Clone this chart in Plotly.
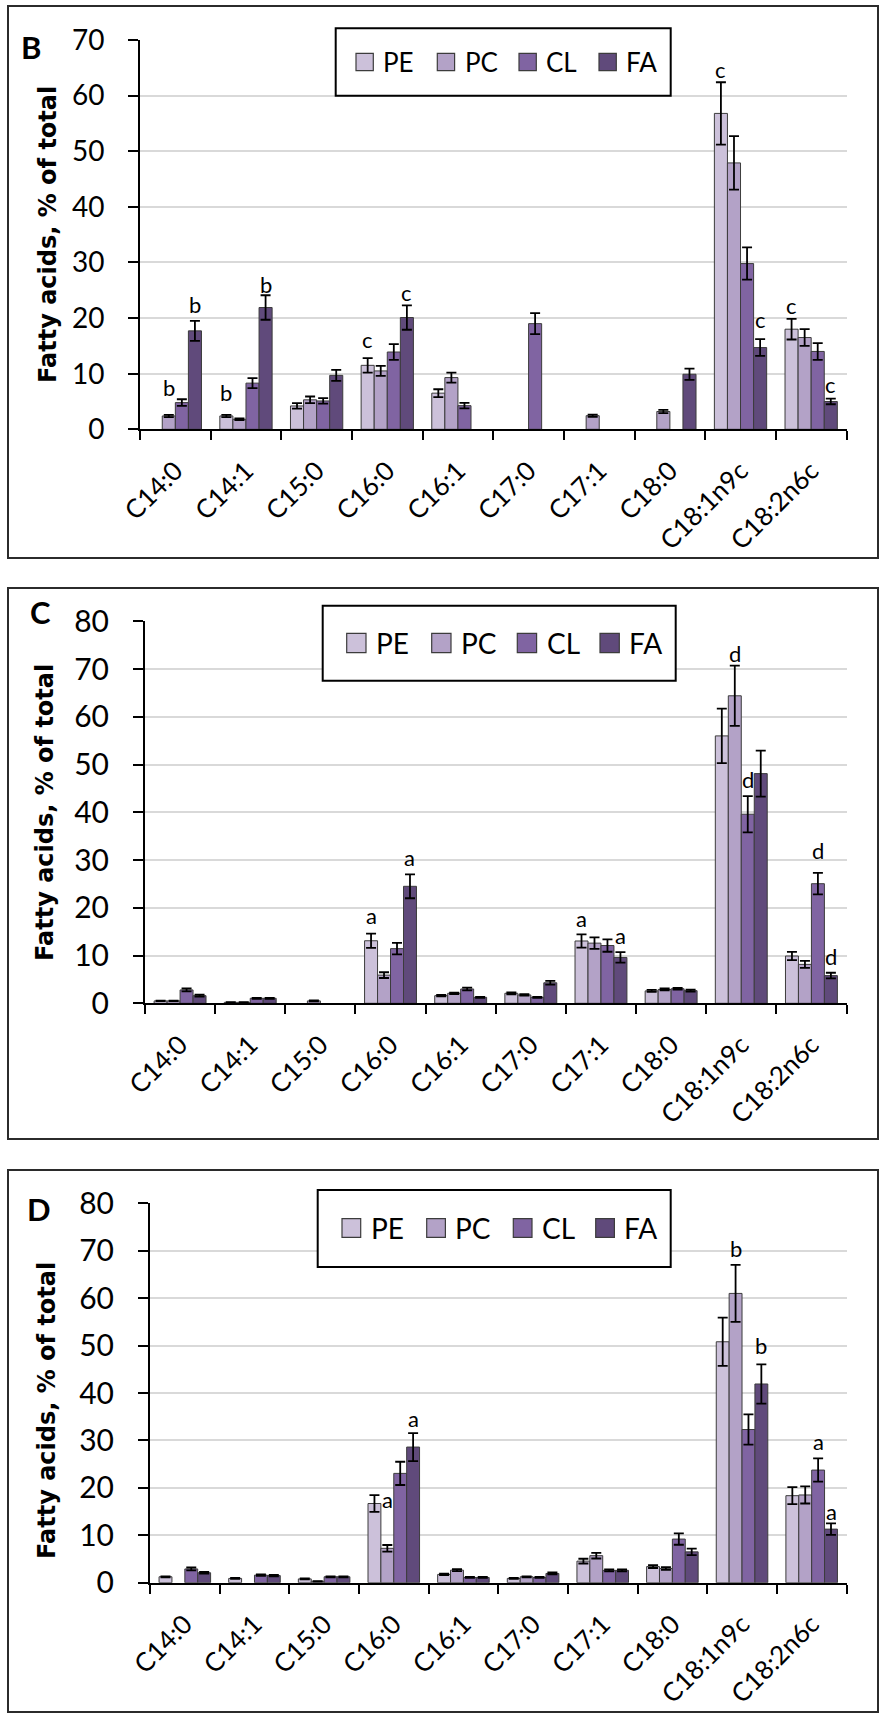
import plotly.graph_objects as go

# ---------------- data ----------------
categories = ["C14:0", "C14:1", "C15:0", "C16:0", "C16:1",
              "C17:0", "C17:1", "C18:0", "C18:1n9c", "C18:2n6c"]
series_names = ["PE", "PC", "CL", "FA"]
series_colors = ["#ccc1da", "#b3a2c7", "#8064a2", "#604a7b"]

# Panel B
b_PE = [None, 2.4, 4.2, 11.5, 6.5, None, None, None, 56.8, 18.0]
b_PC = [2.4, 1.8, 5.3, 10.5, 9.3, None, 2.45, 3.2, 47.9, 16.5]
b_CL = [4.8, 8.3, 5.1, 13.9, 4.25, 19.0, None, None, 29.8, 14.0]
b_FA = [17.7, 21.9, 9.7, 20.1, None, None, None, 9.9, 14.7, 5.0]
b_PE_err = [None, 0.2, 0.5, 1.3, 0.7, None, None, None, 5.6, 1.85]
b_PC_err = [0.2, 0.15, 0.6, 0.9, 0.9, None, 0.2, 0.3, 4.8, 1.5]
b_CL_err = [0.6, 0.9, 0.5, 1.4, 0.5, 1.9, None, None, 2.9, 1.5]
b_FA_err = [1.8, 2.2, 1.0, 2.2, None, None, None, 1.0, 1.5, 0.5]
# letters: (category, series index, y position, letter)
b_letters = [("C14:0", 1, 7.5, "b"), ("C14:0", 3, 22.5, "b"),
             ("C14:1", 0, 6.6, "b"), ("C14:1", 3, 26.1, "b"),
             ("C16:0", 0, 16.2, "c"), ("C16:0", 3, 24.6, "c"),
             ("C18:1n9c", 0, 64.7, "c"), ("C18:1n9c", 3, 19.8, "c"),
             ("C18:2n6c", 0, 22.3, "c"), ("C18:2n6c", 3, 8.0, "c")]

# Panel C
c_PE = [0.5, 0.2, None, 13.1, 1.6, 2.1, 13.05, 2.6, 56.0, 9.9]
c_PC = [0.5, 0.2, 0.5, 5.9, 2.1, 1.75, 12.6, 2.9, 64.4, 8.15]
c_CL = [2.8, 1.05, None, 11.45, 3.0, 1.25, 12.1, 3.05, 39.6, 25.05]
c_FA = [1.6, 1.05, None, 24.5, 1.25, 4.3, 9.6, 2.65, 48.1, 5.8]
c_PE_err = [0.05, 0.05, None, 1.5, 0.15, 0.2, 1.4, 0.2, 5.7, 0.85]
c_PC_err = [0.05, 0.05, 0.1, 0.6, 0.15, 0.15, 1.2, 0.2, 6.3, 0.75]
c_CL_err = [0.3, 0.1, None, 1.2, 0.3, 0.1, 1.3, 0.2, 3.8, 2.25]
c_FA_err = [0.2, 0.1, None, 2.5, 0.1, 0.4, 1.1, 0.2, 4.8, 0.6]
c_letters = [("C16:0", 0, 18.3, "a"), ("C16:0", 3, 30.6, "a"),
             ("C17:1", 0, 17.8, "a"), ("C17:1", 3, 14.1, "a"),
             ("C18:1n9c", 1, 73.3, "d"), ("C18:1n9c", 2, 46.8, "d"),
             ("C18:2n6c", 2, 32.0, "d"), ("C18:2n6c", 3, 9.9, "d")]

# Panel D
d_PE = [1.25, 0.9, 0.8, 16.7, 1.75, 0.9, 4.55, 3.4, 50.8, 18.35]
d_PC = [None, None, 0.3, 7.25, 2.65, 1.25, 5.7, 3.0, 61.0, 18.5]
d_CL = [2.9, 1.6, 1.25, 23.05, 1.1, 1.1, 2.6, 9.2, 32.3, 23.75]
d_FA = [2.1, 1.5, 1.25, 28.6, 1.1, 1.95, 2.6, 6.5, 41.9, 11.3]
d_PE_err = [0.1, 0.1, 0.1, 1.75, 0.15, 0.1, 0.5, 0.3, 5.1, 1.8]
d_PC_err = [None, None, 0.05, 0.7, 0.2, 0.1, 0.6, 0.3, 6.0, 1.8]
d_CL_err = [0.3, 0.15, 0.1, 2.45, 0.1, 0.1, 0.2, 1.2, 3.2, 2.45]
d_FA_err = [0.2, 0.15, 0.1, 2.95, 0.1, 0.2, 0.2, 0.7, 4.15, 1.2]
d_letters = [("C16:0", 1, 17.6, "a"), ("C16:0", 3, 34.6, "a"),
             ("C18:1n9c", 1, 70.5, "b"), ("C18:1n9c", 3, 50.1, "b"),
             ("C18:2n6c", 2, 29.7, "a"), ("C18:2n6c", 3, 15.0, "a")]

panel_labels = ["B", "C", "D"]
y_max = [70, 80, 80]
y_title = "Fatty acids, % of total"

# ---------------- layout geometry (pixels) ----------------
W, H = 880, 1715
BARGAP = 0.26


def px(x):
    return x / W


def py(y):
    return 1 - y / H


panels = [
    dict(vals=[b_PE, b_PC, b_CL, b_FA], errs=[b_PE_err, b_PC_err, b_CL_err, b_FA_err],
         letters=b_letters, plot=(140, 40, 846.5, 429.3), frame=(8, 6, 878, 558),
         label_pos=(31, 47), title_pos=(48, 235), tick_size=28,
         legend=dict(box=(335.7, 28.3, 670.7, 95.7), mx=[356, 437.3, 519, 599],
                     ms=17.3, cy=62, fs=26)),
    dict(vals=[c_PE, c_PC, c_CL, c_FA], errs=[c_PE_err, c_PC_err, c_CL_err, c_FA_err],
         letters=c_letters, plot=(145, 621.3, 846.5, 1003.3), frame=(8, 588, 878, 1139),
         label_pos=(40, 612), title_pos=(45, 813), tick_size=30,
         legend=dict(box=(322.7, 605.7, 675.7, 680.7), mx=[346.7, 431.7, 517.3, 600],
                     ms=19.3, cy=643, fs=28)),
    dict(vals=[d_PE, d_PC, d_CL, d_FA], errs=[d_PE_err, d_PC_err, d_CL_err, d_FA_err],
         letters=d_letters, plot=(150, 1203.3, 846.5, 1582.7), frame=(8, 1170, 878, 1712),
         label_pos=(39, 1209), title_pos=(47, 1411), tick_size=30,
         legend=dict(box=(317.7, 1190, 670.7, 1267), mx=[342, 426.7, 513.3, 595.7],
                     ms=18.7, cy=1228, fs=28)),
]

fig = go.Figure()
shapes = []
annotations = []
layout_axes = {}

for i, p in enumerate(panels):
    n = "" if i == 0 else str(i + 1)
    xref, yref = "x" + n, "y" + n
    for s in range(4):
        fig.add_trace(go.Bar(
            x=categories, y=p["vals"][s], name=series_names[s],
            marker=dict(color=series_colors[s], line=dict(color="#3c3c3c", width=1)),
            error_y=dict(type="data", array=p["errs"][s], visible=True,
                         color="black", thickness=1.8, width=5),
            xaxis=xref, yaxis=yref, showlegend=False, offsetgroup=str(s),
        ))
    x0, y0, x1, y1 = p["plot"]
    layout_axes["xaxis" + n] = dict(
        domain=[px(x0), px(x1)], anchor=yref, type="category",
        categoryorder="array", categoryarray=categories,
        range=[-0.5, len(categories) - 0.5], automargin=False,
        showline=True, linecolor="black", linewidth=2,
        ticks="outside", tickson="boundaries", ticklen=9, tickwidth=2, tickcolor="black",
        tickangle=-45, tickfont=dict(family="Lato", size=26, color="black"),
        ticklabelstandoff=14,
        showgrid=False, zeroline=False,
    )
    layout_axes["yaxis" + n] = dict(
        domain=[py(y1), py(y0)], anchor=xref, range=[0, y_max[i]], dtick=10,
        automargin=False,
        showline=True, linecolor="black", linewidth=2,
        ticks="outside", ticklen=10, tickwidth=2, tickcolor="black",
        showgrid=True, gridcolor="#d9d9d9", gridwidth=1.5, zeroline=False,
        tickfont=dict(family="Lato", size=p["tick_size"], color="black"),
        ticklabelstandoff=18,
    )
    # frame
    fx0, fy0, fx1, fy1 = p["frame"]
    shapes.append(dict(type="rect", xref="paper", yref="paper",
                       x0=px(fx0), x1=px(fx1), y0=py(fy1), y1=py(fy0),
                       line=dict(color="#2b2b2b", width=2), fillcolor="rgba(0,0,0,0)"))
    # panel label
    lx, ly = p["label_pos"]
    annotations.append(dict(text="<b>" + panel_labels[i] + "</b>", xref="paper", yref="paper",
                            x=px(lx), y=py(ly), xanchor="center", yanchor="middle",
                            showarrow=False, font=dict(family="Lato", size=31, color="black")))
    # y title
    tx, ty = p["title_pos"]
    annotations.append(dict(text="<b>" + y_title + "</b>", xref="paper", yref="paper",
                            x=px(tx), y=py(ty), xanchor="center", yanchor="middle",
                            textangle=-90, showarrow=False,
                            font=dict(family="DejaVu Sans", size=24, color="black")))
    # significance letters
    bw = (1 - BARGAP) / 4
    for cat, s, yv, letter in p["letters"]:
        xi = categories.index(cat) + (s - 1.5) * bw
        annotations.append(dict(text=letter, x=xi, y=yv, xref=xref, yref=yref,
                                xanchor="center", yanchor="middle", showarrow=False,
                                font=dict(family="Lato", size=22, color="black")))
    # legend (drawn manually)
    lg = p["legend"]
    bx0, by0, bx1, by1 = lg["box"]
    shapes.append(dict(type="rect", xref="paper", yref="paper",
                       x0=px(bx0), x1=px(bx1), y0=py(by1), y1=py(by0),
                       line=dict(color="black", width=2), fillcolor="white", layer="above"))
    for s in range(4):
        mx = lg["mx"][s]
        ms = lg["ms"]
        shapes.append(dict(type="rect", xref="paper", yref="paper",
                           x0=px(mx), x1=px(mx + ms), y0=py(lg["cy"] + ms / 2),
                           y1=py(lg["cy"] - ms / 2),
                           line=dict(color="#3c3c3c", width=1.2),
                           fillcolor=series_colors[s], layer="above"))
        annotations.append(dict(text=series_names[s], xref="paper", yref="paper",
                                x=px(mx + ms + 8), y=py(lg["cy"]), xanchor="left",
                                yanchor="middle", showarrow=False,
                                font=dict(family="Lato", size=lg["fs"], color="black")))

fig.update_layout(
    width=W, height=H, margin=dict(l=0, r=0, t=0, b=0, autoexpand=False),
    paper_bgcolor="white", plot_bgcolor="white",
    barmode="group", bargap=BARGAP, bargroupgap=0,
    shapes=shapes, annotations=annotations,
    **layout_axes,
)

fig.write_html("out.html")
